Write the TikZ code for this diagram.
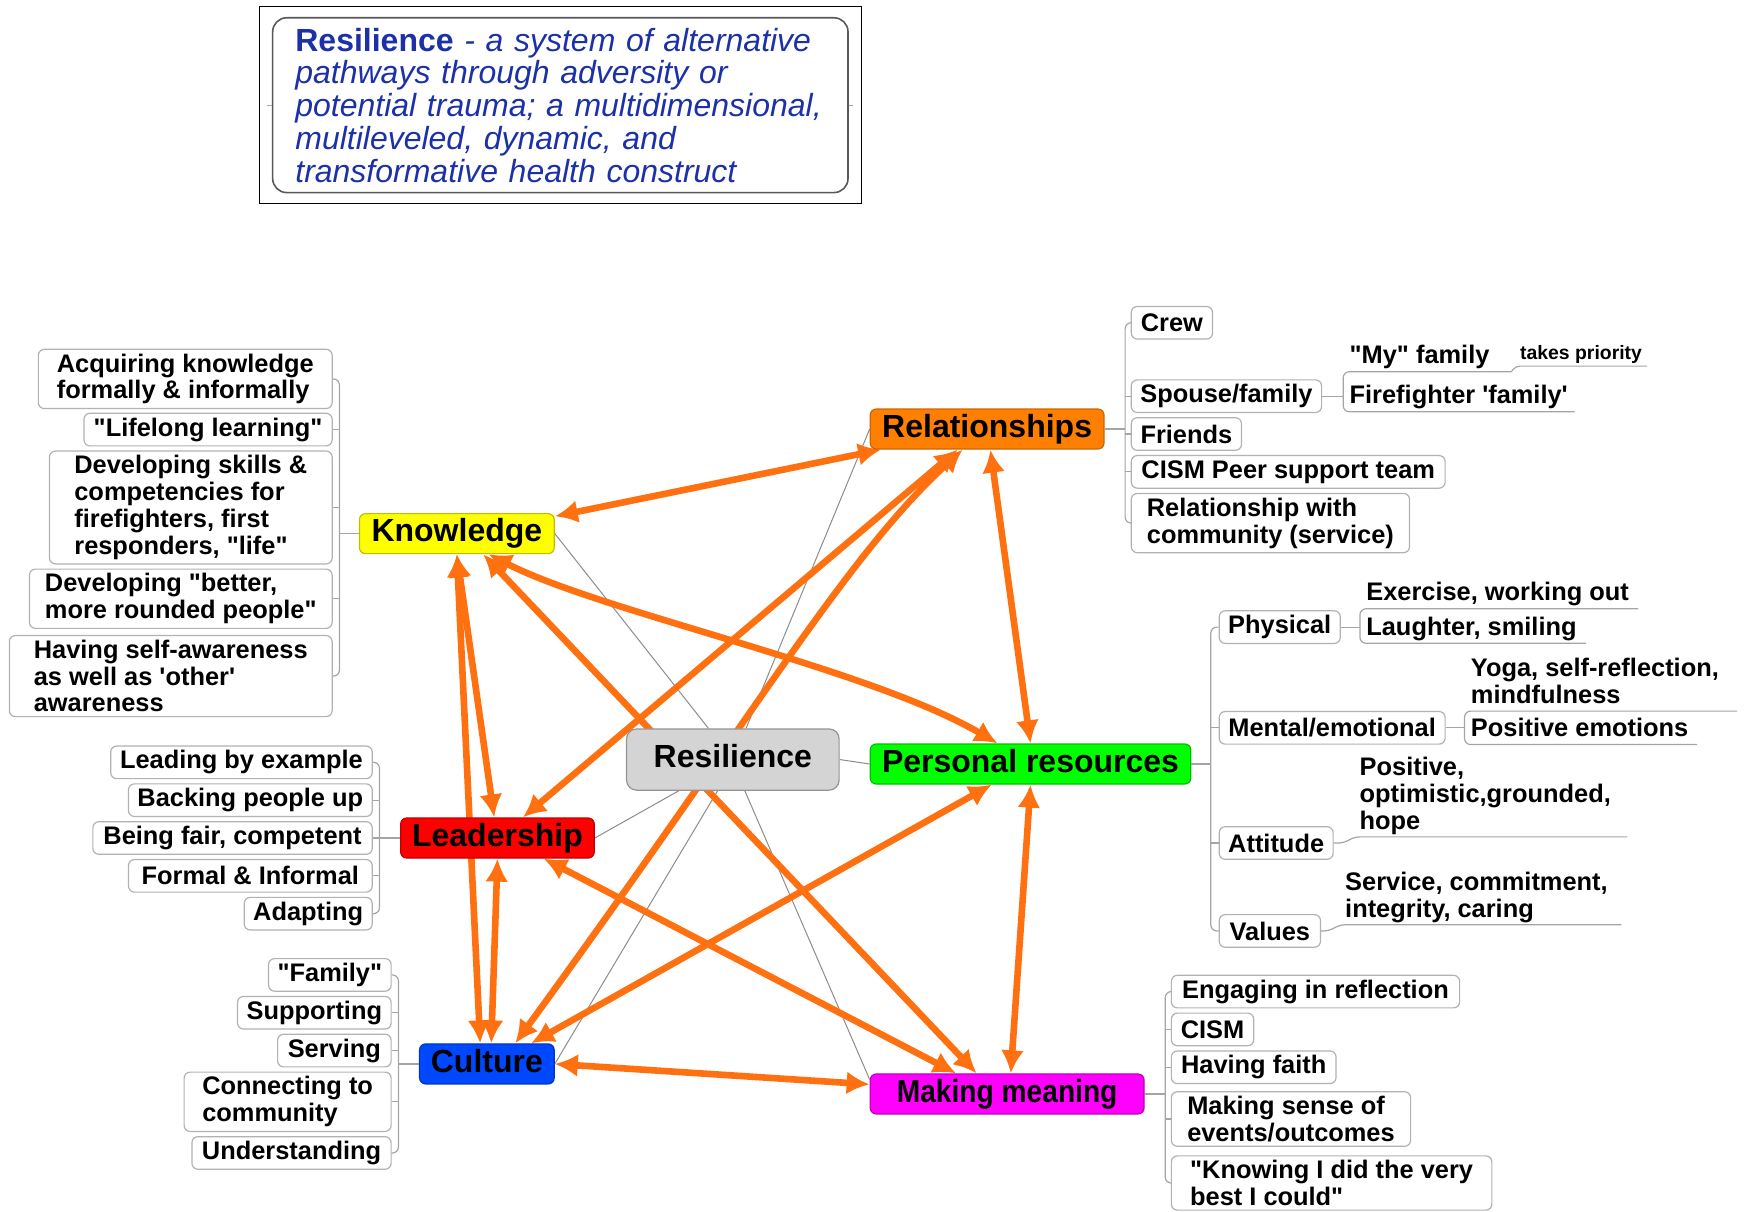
\documentclass[tikz,border=0pt]{standalone}
\usepackage{fontspec}
\setmainfont{Liberation Sans}[Ligatures=TeXOff]
\usepackage{graphicx}
\usetikzlibrary{arrows.meta,backgrounds}
\definecolor{LinkOrange}{RGB}{255,112,16}
\definecolor{TwigGray}{RGB}{165,165,165}
\definecolor{LeafGray}{RGB}{178,178,178}
\definecolor{DefBlue}{RGB}{28,48,168}
\definecolor{KnowYellow}{RGB}{255,255,0}
\definecolor{RelOrange}{RGB}{255,128,0}
\definecolor{ResGray}{RGB}{212,212,212}
\definecolor{PersGreen}{RGB}{0,255,0}
\definecolor{LeadRed}{RGB}{255,0,0}
\definecolor{CultBlue}{RGB}{0,72,255}
\definecolor{MeanMagenta}{RGB}{255,0,255}
\newcommand{\leaffont}{\fontsize{12.7}{13.4}\selectfont\bfseries}
\newcommand{\notefont}{\fontsize{9.7}{11}\selectfont\bfseries}
\newcommand{\topicfont}{\fontsize{16}{19}\selectfont\bfseries}
\newcommand{\deffont}{\fontsize{16}{16.4}\selectfont\itshape}

\begin{document}
\begin{tikzpicture}[x=0.5565pt,y=-0.5565pt,>={Latex[length=11.5pt,width=11.5pt]},
  topic/.style={draw,rounded corners=3pt,line width=0.6pt,font=\topicfont,minimum height=20pt,inner xsep=4pt,inner ysep=2pt,text height=11.5pt,text depth=3.4pt},
  leaf/.style={draw=LeafGray,line width=0.6pt,rounded corners=3pt,fill=white,align=left,font=\leaffont,inner xsep=4.5pt,inner ysep=2.2pt,minimum height=16.3pt},
  underitem/.style={anchor=south west,align=left,font=\leaffont,inner xsep=3pt,inner ysep=1pt,text depth=2.7pt},
  twig/.style={draw=TwigGray,line width=0.6pt},
  tie/.style={draw=TwigGray!85!black,line width=0.5pt},
  link/.style={<->,draw=LinkOrange,line width=3.3pt}]
\useasboundingbox (0,0) rectangle (1568,1089);

% definition
\node[draw=black,line width=0.6pt,minimum width=301.1pt,minimum height=98.5pt] (frame) at (503.5,94.5) {};
\node[draw=black!65,line width=0.8pt,rounded corners=7pt,minimum width=287.7pt,minimum height=87.4pt,
  text width=265pt,align=left,inner ysep=2pt,font=\deffont,text=DefBlue] (def) at (503.5,94.5)
  {\textup{\textbf{Resilience}} - a system of alternative\\pathways through adversity or\\potential trauma; a multidimensional,\\multileveled, dynamic, and\\transformative health construct};
\draw[twig] (def.west) -- +(-4,0);
\draw[twig] (def.east) -- +(4,0);

% main topics
\node[topic,fill=ResGray,draw=ResGray!70!black,minimum width=106.3pt,minimum height=30.6pt,rounded corners=5pt] (res) at (658.5,682.5) {Resilience};
\node[topic,fill=KnowYellow,draw=KnowYellow!75!black,minimum width=97.4pt] (know) at (410.5,479.5) {Knowledge};
\node[topic,fill=RelOrange,draw=RelOrange!80!black,minimum width=116.9pt] (rel) at (887,385.5) {Relationships};
\node[topic,fill=PersGreen,draw=PersGreen!75!black,minimum width=160.3pt] (pers) at (926,686.5) {Personal resources};
\node[topic,fill=LeadRed,draw=LeadRed!75!black,minimum width=96.8pt] (lead) at (447,753) {Leadership};
\node[topic,fill=CultBlue,draw=CultBlue!75!black,minimum width=67.3pt] (cult) at (437.5,956) {Culture};
\node[topic,fill=MeanMagenta,draw=MeanMagenta!75!black,minimum width=136.9pt] (mean) at (905,983) {\scalebox{0.88}[1]{Making meaning}};

% leaves
\foreach \y/\w/\txt [count=\i] in {340.5/264/{Acquiring knowledge\\formally \& informally},
    386/223/{"Lifelong learning"},
    456/254/{Developing skills \&\\competencies for\\firefighters, first\\responders, "life"},
    538/272/{Developing "better,\\more rounded people"},
    607.5/290/{Having self-awareness\\as well as 'other'\\awareness}}
  \node[leaf,anchor=east,minimum width=\w*0.5565pt] (kn\i) at (299,\y) {\txt};
\foreach \y/\w/\txt [count=\i] in {685/235/{Leading by example},719/219/{Backing people up},
    753/251/{Being fair, competent},787/219/{Formal \& Informal},821/115/{Adapting}}
  \node[leaf,anchor=east,minimum width=\w*0.5565pt] (ld\i) at (335,\y) {\txt};
\foreach \y/\w/\txt [count=\i] in {876/110/{"Family"},910/138/{Supporting},944/102/{Serving},
    990/186/{Connecting to\\community},1036/179/{Understanding}}
  \node[leaf,anchor=east,minimum width=\w*0.5565pt] (cu\i) at (352,\y) {\txt};
\foreach \y/\w/\txt [count=\i] in {290/73/{Crew},356/171/{Spouse/family},390/99/{Friends},
    424/282/{CISM Peer support team},470/250/{Relationship with\\community (service)}}
  \node[leaf,anchor=west,minimum width=\w*0.5565pt] (rl\i) at (1016,\y) {\txt};
\foreach \y/\w/\txt [count=\i] in {563.5/108/{Physical},654/203/{Mental/emotional},
    757.5/101/{Attitude},836.5/91/{Values}}
  \node[leaf,anchor=west,minimum width=\w*0.5565pt] (pr\i) at (1095,\y) {\txt};
\foreach \y/\w/\txt [count=\i] in {891/259/{Engaging in reflection},925/74/{CISM},959/148/{Having faith},
    1005.5/215/{Making sense of\\events/outcomes},1063/288/{"Knowing I did the very\\best I could"}}
  \node[leaf,anchor=west,minimum width=\w*0.5565pt] (mm\i) at (1052,\y) {\txt};

% underlined sub-items
\node[underitem] (myfam) at (1207,334) {"My" family};
\node[underitem,font=\notefont,inner xsep=2pt,text depth=2pt] (prio) at (1362,329) {takes priority};
\node[underitem] (ffam) at (1207,370) {Firefighter 'family'};
\node[underitem] (exer) at (1222,547) {Exercise, working out};
\node[underitem] (laugh) at (1222,578) {Laughter, smiling};
\node[underitem] (yoga) at (1316,639) {Yoga, self-reflection,\\mindfulness};
\node[underitem] (posem) at (1316,669) {Positive emotions};
\node[underitem] (posit) at (1216,752) {Positive,\\optimistic,grounded,\\hope};
\node[underitem] (serv) at (1203,831) {Service, commitment,\\integrity, caring};

% branches
\coordinate (kbus) at (305,0);
\coordinate (lbus) at (341,0);
\coordinate (cbus) at (358,0);
\coordinate (rbus) at (1011,0);
\coordinate (pbus) at (1088,0);
\coordinate (mbus) at (1047,0);
\draw[twig,rounded corners=3pt] (kn1.east) -- (kn1.east -| kbus) -- (kn5.east -| kbus) -- (kn5.east);
\foreach \i in {2,3,4} \draw[twig] (kn\i.east) -- (kn\i.east -| kbus);
\draw[twig] (know.west) -- (know.west -| kbus);
\draw[twig,rounded corners=3pt] (ld1.east) -- (ld1.east -| lbus) -- (ld5.east -| lbus) -- (ld5.east);
\foreach \i in {2,3,4} \draw[twig] (ld\i.east) -- (ld\i.east -| lbus);
\draw[twig] (lead.west) -- (lead.west -| lbus);
\draw[twig,rounded corners=3pt] (cu1.east) -- (cu1.east -| cbus) -- (cu5.east -| cbus) -- (cu5.east);
\foreach \i in {2,3,4} \draw[twig] (cu\i.east) -- (cu\i.east -| cbus);
\draw[twig] (cult.west) -- (cult.west -| cbus);
\draw[twig,rounded corners=3pt] (rl1.west) -- (rl1.west -| rbus) -- (rl5.west -| rbus) -- (rl5.west);
\foreach \i in {2,3,4} \draw[twig] (rl\i.west) -- (rl\i.west -| rbus);
\draw[twig] (rel.east) -- (rel.east -| rbus);
\draw[twig,rounded corners=3pt] (pr1.west) -- (pr1.west -| pbus) -- (pr4.west -| pbus) -- (pr4.west);
\foreach \i in {2,3} \draw[twig] (pr\i.west) -- (pr\i.west -| pbus);
\draw[twig] (pers.east) -- (pers.east -| pbus);
\draw[twig,rounded corners=3pt] (mm1.west) -- (mm1.west -| mbus) -- (mm5.west -| mbus) -- (mm5.west);
\foreach \i in {2,3,4} \draw[twig] (mm\i.west) -- (mm\i.west -| mbus);
\draw[twig] (mean.east) -- (mean.east -| mbus);

\draw[twig,rounded corners=3pt] (myfam.south west) ++(151,0) -- (myfam.south west) -- (ffam.south west) -- ++(208,0);
\draw[twig,rounded corners=2pt] (myfam.south west) ++(151,0) -- (prio.south west) -- ++(118,0);
\draw[twig] (rl2.east) -- (rl2.east -| ffam.south west);
\draw[twig,rounded corners=3pt] (exer.south west) ++(250,0) -- (exer.south west) -- (laugh.south west) -- ++(203,0);
\draw[twig] (pr1.east) -- (pr1.east -| exer.south west);
\draw[twig,rounded corners=3pt] (yoga.south west) ++(245,0) -- (yoga.south west) -- (posem.south west) -- ++(209,0);
\draw[twig] (pr2.east) -- (pr2.east -| yoga.south west);
\draw[twig,rounded corners=3pt] (pr3.east) -- ++(10,0) -- (posit.south west) -- ++(246,0);
\draw[twig,rounded corners=3pt] (pr4.east) -- ++(8,0) -- (serv.south west) -- ++(254,0);

\begin{scope}[on background layer]
  \draw[tie] (res.128) -- (know.east);
  \draw[tie] (res.67) -- (rel.west);
  \draw[tie] (res.east) -- (pers.west);
  \draw[tie] (res.210) -- (lead.east);
  \draw[tie] (res.244) -- (cult.east);
  \draw[tie] (res.291) -- (mean.174);
  \draw[link] (know.10) -- (rel.191);
  \draw[link] (know.south) -- (lead.99);
  \draw[link] (know.south) -- (cult.108);
  \draw[link] (lead.south) -- (cult.78);
  \draw[link] (know.-38) -- (mean.146);
  \draw[link] (know.-33) .. controls (540,550) and (780,600) .. (pers.148);
  \draw[link] (rel.215) -- (lead.39);
  \draw[link] (rel.220) .. controls (760,500) and (680,640) .. (cult.36);
  \draw[link] (rel.-81) -- (pers.north);
  \draw[link] (pers.208) -- (cult.25);
  \draw[link] (pers.south) -- (mean.80);
  \draw[link] (lead.-24) -- (mean.158);
  \draw[link] (cult.east) -- (mean.176);
\end{scope}
\end{tikzpicture}
\end{document}
